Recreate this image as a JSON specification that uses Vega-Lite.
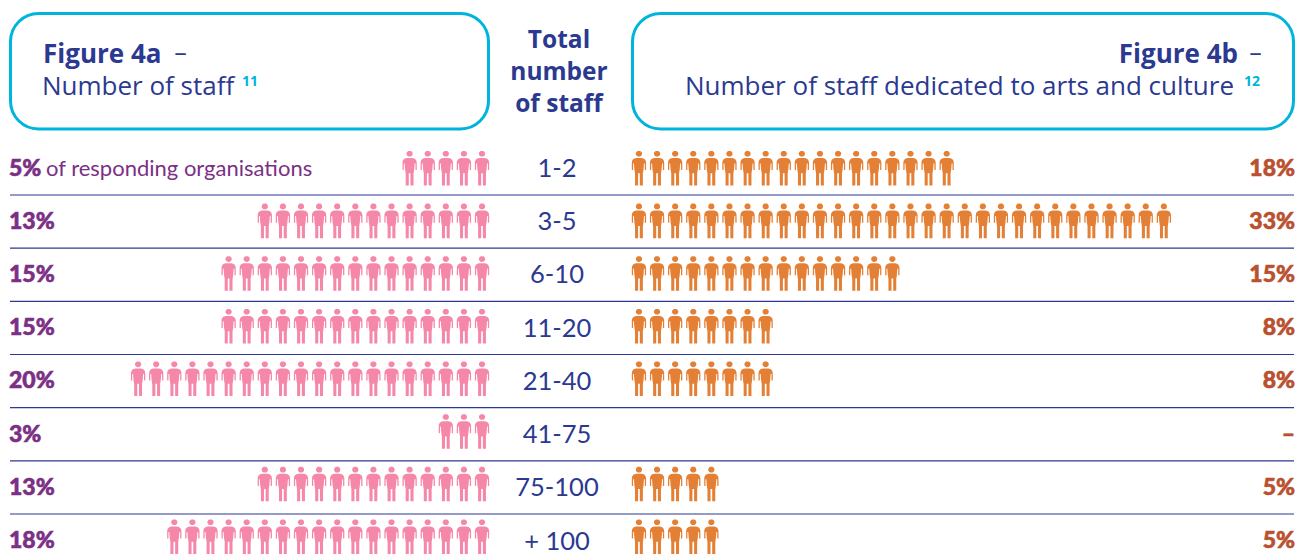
{"$schema":"https://vega.github.io/schema/vega-lite/v6.json","width":1296,"height":556,"autosize":{"type":"fit","contains":"padding"},"padding":0,"background":"white","config":{"view":{"stroke":null},"text":{"font":"Lato","baseline":"middle"}},"datasets":{"bands":[{"band":"1-2","a":"5%","b":"18%"},{"band":"3-5","a":"13%","b":"33%"},{"band":"6-10","a":"15%","b":"15%"},{"band":"11-20","a":"15%","b":"8%"},{"band":"21-40","a":"20%","b":"8%"},{"band":"41-75","a":"3%","b":"–"},{"band":"75-100","a":"13%","b":"5%"},{"band":"+ 100","a":"18%","b":"5%"}],"seps":[{"s":1},{"s":2},{"s":3},{"s":4},{"s":5},{"s":6},{"s":7}],"iconsA":[{"band":"1-2","i":1},{"band":"1-2","i":2},{"band":"1-2","i":3},{"band":"1-2","i":4},{"band":"1-2","i":5},{"band":"3-5","i":1},{"band":"3-5","i":2},{"band":"3-5","i":3},{"band":"3-5","i":4},{"band":"3-5","i":5},{"band":"3-5","i":6},{"band":"3-5","i":7},{"band":"3-5","i":8},{"band":"3-5","i":9},{"band":"3-5","i":10},{"band":"3-5","i":11},{"band":"3-5","i":12},{"band":"3-5","i":13},{"band":"6-10","i":1},{"band":"6-10","i":2},{"band":"6-10","i":3},{"band":"6-10","i":4},{"band":"6-10","i":5},{"band":"6-10","i":6},{"band":"6-10","i":7},{"band":"6-10","i":8},{"band":"6-10","i":9},{"band":"6-10","i":10},{"band":"6-10","i":11},{"band":"6-10","i":12},{"band":"6-10","i":13},{"band":"6-10","i":14},{"band":"6-10","i":15},{"band":"11-20","i":1},{"band":"11-20","i":2},{"band":"11-20","i":3},{"band":"11-20","i":4},{"band":"11-20","i":5},{"band":"11-20","i":6},{"band":"11-20","i":7},{"band":"11-20","i":8},{"band":"11-20","i":9},{"band":"11-20","i":10},{"band":"11-20","i":11},{"band":"11-20","i":12},{"band":"11-20","i":13},{"band":"11-20","i":14},{"band":"11-20","i":15},{"band":"21-40","i":1},{"band":"21-40","i":2},{"band":"21-40","i":3},{"band":"21-40","i":4},{"band":"21-40","i":5},{"band":"21-40","i":6},{"band":"21-40","i":7},{"band":"21-40","i":8},{"band":"21-40","i":9},{"band":"21-40","i":10},{"band":"21-40","i":11},{"band":"21-40","i":12},{"band":"21-40","i":13},{"band":"21-40","i":14},{"band":"21-40","i":15},{"band":"21-40","i":16},{"band":"21-40","i":17},{"band":"21-40","i":18},{"band":"21-40","i":19},{"band":"21-40","i":20},{"band":"41-75","i":1},{"band":"41-75","i":2},{"band":"41-75","i":3},{"band":"75-100","i":1},{"band":"75-100","i":2},{"band":"75-100","i":3},{"band":"75-100","i":4},{"band":"75-100","i":5},{"band":"75-100","i":6},{"band":"75-100","i":7},{"band":"75-100","i":8},{"band":"75-100","i":9},{"band":"75-100","i":10},{"band":"75-100","i":11},{"band":"75-100","i":12},{"band":"75-100","i":13},{"band":"+ 100","i":1},{"band":"+ 100","i":2},{"band":"+ 100","i":3},{"band":"+ 100","i":4},{"band":"+ 100","i":5},{"band":"+ 100","i":6},{"band":"+ 100","i":7},{"band":"+ 100","i":8},{"band":"+ 100","i":9},{"band":"+ 100","i":10},{"band":"+ 100","i":11},{"band":"+ 100","i":12},{"band":"+ 100","i":13},{"band":"+ 100","i":14},{"band":"+ 100","i":15},{"band":"+ 100","i":16},{"band":"+ 100","i":17},{"band":"+ 100","i":18}],"iconsB":[{"band":"1-2","i":1},{"band":"1-2","i":2},{"band":"1-2","i":3},{"band":"1-2","i":4},{"band":"1-2","i":5},{"band":"1-2","i":6},{"band":"1-2","i":7},{"band":"1-2","i":8},{"band":"1-2","i":9},{"band":"1-2","i":10},{"band":"1-2","i":11},{"band":"1-2","i":12},{"band":"1-2","i":13},{"band":"1-2","i":14},{"band":"1-2","i":15},{"band":"1-2","i":16},{"band":"1-2","i":17},{"band":"1-2","i":18},{"band":"3-5","i":1},{"band":"3-5","i":2},{"band":"3-5","i":3},{"band":"3-5","i":4},{"band":"3-5","i":5},{"band":"3-5","i":6},{"band":"3-5","i":7},{"band":"3-5","i":8},{"band":"3-5","i":9},{"band":"3-5","i":10},{"band":"3-5","i":11},{"band":"3-5","i":12},{"band":"3-5","i":13},{"band":"3-5","i":14},{"band":"3-5","i":15},{"band":"3-5","i":16},{"band":"3-5","i":17},{"band":"3-5","i":18},{"band":"3-5","i":19},{"band":"3-5","i":20},{"band":"3-5","i":21},{"band":"3-5","i":22},{"band":"3-5","i":23},{"band":"3-5","i":24},{"band":"3-5","i":25},{"band":"3-5","i":26},{"band":"3-5","i":27},{"band":"3-5","i":28},{"band":"3-5","i":29},{"band":"3-5","i":30},{"band":"6-10","i":1},{"band":"6-10","i":2},{"band":"6-10","i":3},{"band":"6-10","i":4},{"band":"6-10","i":5},{"band":"6-10","i":6},{"band":"6-10","i":7},{"band":"6-10","i":8},{"band":"6-10","i":9},{"band":"6-10","i":10},{"band":"6-10","i":11},{"band":"6-10","i":12},{"band":"6-10","i":13},{"band":"6-10","i":14},{"band":"6-10","i":15},{"band":"11-20","i":1},{"band":"11-20","i":2},{"band":"11-20","i":3},{"band":"11-20","i":4},{"band":"11-20","i":5},{"band":"11-20","i":6},{"band":"11-20","i":7},{"band":"11-20","i":8},{"band":"21-40","i":1},{"band":"21-40","i":2},{"band":"21-40","i":3},{"band":"21-40","i":4},{"band":"21-40","i":5},{"band":"21-40","i":6},{"band":"21-40","i":7},{"band":"21-40","i":8},{"band":"75-100","i":1},{"band":"75-100","i":2},{"band":"75-100","i":3},{"band":"75-100","i":4},{"band":"75-100","i":5},{"band":"+ 100","i":1},{"band":"+ 100","i":2},{"band":"+ 100","i":3},{"band":"+ 100","i":4},{"band":"+ 100","i":5}]},"data":{"values":[{}]},"resolve":{"scale":{"x":"independent","y":"independent"}},"layer":[{"mark":{"type":"rect","fill":"white","stroke":"#00B4DC","strokeWidth":3,"cornerRadius":28},"encoding":{"x":{"datum":10.5,"type":"quantitative","axis":null,"scale":{"domain":[0,1296],"range":[0,1296]}},"x2":{"datum":488.5},"y":{"datum":13.5,"type":"quantitative","axis":null,"scale":{"domain":[0,556],"range":[0,556]}},"y2":{"datum":129}}},{"mark":{"type":"rect","fill":"white","stroke":"#00B4DC","strokeWidth":3,"cornerRadius":28},"encoding":{"x":{"datum":632.5,"type":"quantitative","axis":null,"scale":{"domain":[0,1296],"range":[0,1296]}},"x2":{"datum":1293.5},"y":{"datum":13.5,"type":"quantitative","axis":null,"scale":{"domain":[0,556],"range":[0,556]}},"y2":{"datum":129}}},{"data":{"name":"seps"},"mark":{"type":"rule","stroke":"#2B3990","strokeWidth":1.2},"encoding":{"x":{"datum":10,"type":"quantitative","axis":null,"scale":{"domain":[0,1296],"range":[0,1296]}},"x2":{"datum":1294},"y":{"field":"s","type":"quantitative","axis":null,"scale":{"domain":[1,7],"range":[195,514],"zero":false,"nice":false}}}},{"data":{"name":"iconsA"},"mark":{"type":"point","filled":true,"opacity":1,"size":1156,"color":"#F587A9","shape":"M0,-1.03A0.166,0.166 0 1,1 0,-0.70A0.166,0.166 0 1,1 0,-1.03ZM-0.16,-0.62L0.16,-0.62Q0.42,-0.58 0.42,-0.32L0.42,0.09L0.345,0.09L0.345,-0.3L0.295,-0.3L0.27,0.05L0.23,0.3L0.23,1L0.05,1L0.05,0.28L-0.05,0.28L-0.05,1L-0.23,1L-0.23,0.3L-0.27,0.05L-0.295,-0.3L-0.345,-0.3L-0.345,0.09L-0.42,0.09L-0.42,-0.32Q-0.42,-0.58 -0.16,-0.62Z"},"encoding":{"x":{"field":"i","type":"quantitative","axis":null,"scale":{"domain":[27.63,-43.97],"zero":false,"nice":false}},"y":{"field":"band","type":"ordinal","axis":null,"sort":null,"scale":{"type":"point","padding":0,"domain":["1-2","3-5","6-10","11-20","21-40","41-75","75-100","+ 100"],"range":[168.5,537]}}}},{"data":{"name":"iconsB"},"mark":{"type":"point","filled":true,"opacity":1,"size":1156,"color":"#E38035","shape":"M0,-1.03A0.166,0.166 0 1,1 0,-0.70A0.166,0.166 0 1,1 0,-1.03ZM-0.16,-0.62L0.16,-0.62Q0.42,-0.58 0.42,-0.32L0.42,0.09L0.345,0.09L0.345,-0.3L0.295,-0.3L0.27,0.05L0.23,0.3L0.23,1L0.05,1L0.05,0.28L-0.05,0.28L-0.05,1L-0.23,1L-0.23,0.3L-0.27,0.05L-0.295,-0.3L-0.345,-0.3L-0.345,0.09L-0.42,0.09L-0.42,-0.32Q-0.42,-0.58 -0.16,-0.62Z"},"encoding":{"x":{"field":"i","type":"quantitative","axis":null,"scale":{"domain":[-34.3,37.3],"zero":false,"nice":false}},"y":{"field":"band","type":"ordinal","axis":null,"sort":null,"scale":{"type":"point","padding":0,"domain":["1-2","3-5","6-10","11-20","21-40","41-75","75-100","+ 100"],"range":[168.5,537]}}}},{"data":{"name":"bands"},"mark":{"type":"text","align":"center","fontSize":25.5,"color":"#2B3990"},"encoding":{"text":{"field":"band"},"x":{"datum":557,"type":"quantitative","axis":null,"scale":{"domain":[0,1296],"range":[0,1296]}},"y":{"field":"band","type":"ordinal","axis":null,"sort":null,"scale":{"type":"point","padding":0,"domain":["1-2","3-5","6-10","11-20","21-40","41-75","75-100","+ 100"],"range":[169,541.5]}}}},{"data":{"name":"bands"},"mark":{"type":"text","align":"left","fontSize":23,"fontWeight":900,"color":"#7B2F85","stroke":"#7B2F85","strokeWidth":0.6},"encoding":{"text":{"field":"a"},"x":{"datum":9,"type":"quantitative","axis":null,"scale":{"domain":[0,1296],"range":[0,1296]}},"y":{"field":"band","type":"ordinal","axis":null,"sort":null,"scale":{"type":"point","padding":0,"domain":["1-2","3-5","6-10","11-20","21-40","41-75","75-100","+ 100"],"range":[168.5,541]}}}},{"data":{"name":"bands"},"mark":{"type":"text","align":"right","fontSize":23,"fontWeight":900,"color":"#B9502F","stroke":"#B9502F","strokeWidth":0.6},"encoding":{"text":{"field":"b"},"x":{"datum":1295,"type":"quantitative","axis":null,"scale":{"domain":[0,1296],"range":[0,1296]}},"y":{"field":"band","type":"ordinal","axis":null,"sort":null,"scale":{"type":"point","padding":0,"domain":["1-2","3-5","6-10","11-20","21-40","41-75","75-100","+ 100"],"range":[168.5,541]}}}},{"mark":{"type":"text","align":"left","fontSize":22,"color":"#7B2F85","text":"of responding organisations"},"encoding":{"x":{"datum":46,"type":"quantitative","axis":null,"scale":{"domain":[0,1296],"range":[0,1296]}},"y":{"datum":169,"type":"quantitative","axis":null,"scale":{"domain":[0,556],"range":[0,556]}}}},{"mark":{"type":"text","font":"Open Sans","align":"left","fontSize":26,"fontWeight":"bold","color":"#2B3990","text":"Figure 4a"},"encoding":{"x":{"datum":43,"type":"quantitative","axis":null,"scale":{"domain":[0,1296],"range":[0,1296]}},"y":{"datum":55,"type":"quantitative","axis":null,"scale":{"domain":[0,556],"range":[0,556]}}}},{"mark":{"type":"text","align":"left","fontSize":26,"color":"#2B3990","text":"–"},"encoding":{"x":{"datum":173,"type":"quantitative","axis":null,"scale":{"domain":[0,1296],"range":[0,1296]}},"y":{"datum":54,"type":"quantitative","axis":null,"scale":{"domain":[0,556],"range":[0,556]}}}},{"mark":{"type":"text","font":"Open Sans","align":"left","fontSize":26,"color":"#2B3990","text":"Number of staff"},"encoding":{"x":{"datum":42,"type":"quantitative","axis":null,"scale":{"domain":[0,1296],"range":[0,1296]}},"y":{"datum":87,"type":"quantitative","axis":null,"scale":{"domain":[0,556],"range":[0,556]}}}},{"mark":{"type":"text","font":"Open Sans","align":"left","fontSize":14,"fontWeight":"bold","color":"#00B4DC","text":"11"},"encoding":{"x":{"datum":242,"type":"quantitative","axis":null,"scale":{"domain":[0,1296],"range":[0,1296]}},"y":{"datum":82,"type":"quantitative","axis":null,"scale":{"domain":[0,556],"range":[0,556]}}}},{"mark":{"type":"text","font":"Open Sans","align":"center","fontSize":24.5,"fontWeight":"bold","color":"#2B3990","text":"Total"},"encoding":{"x":{"datum":559,"type":"quantitative","axis":null,"scale":{"domain":[0,1296],"range":[0,1296]}},"y":{"datum":41,"type":"quantitative","axis":null,"scale":{"domain":[0,556],"range":[0,556]}}}},{"mark":{"type":"text","font":"Open Sans","align":"center","fontSize":24.5,"fontWeight":"bold","color":"#2B3990","text":"number"},"encoding":{"x":{"datum":559,"type":"quantitative","axis":null,"scale":{"domain":[0,1296],"range":[0,1296]}},"y":{"datum":73,"type":"quantitative","axis":null,"scale":{"domain":[0,556],"range":[0,556]}}}},{"mark":{"type":"text","font":"Open Sans","align":"center","fontSize":24.5,"fontWeight":"bold","color":"#2B3990","text":"of staff"},"encoding":{"x":{"datum":559,"type":"quantitative","axis":null,"scale":{"domain":[0,1296],"range":[0,1296]}},"y":{"datum":105,"type":"quantitative","axis":null,"scale":{"domain":[0,556],"range":[0,556]}}}},{"mark":{"type":"text","font":"Open Sans","align":"right","fontSize":26,"fontWeight":"bold","color":"#2B3990","text":"Figure 4b"},"encoding":{"x":{"datum":1238,"type":"quantitative","axis":null,"scale":{"domain":[0,1296],"range":[0,1296]}},"y":{"datum":55,"type":"quantitative","axis":null,"scale":{"domain":[0,556],"range":[0,556]}}}},{"mark":{"type":"text","align":"left","fontSize":26,"color":"#2B3990","text":"–"},"encoding":{"x":{"datum":1248,"type":"quantitative","axis":null,"scale":{"domain":[0,1296],"range":[0,1296]}},"y":{"datum":54,"type":"quantitative","axis":null,"scale":{"domain":[0,556],"range":[0,556]}}}},{"mark":{"type":"text","font":"Open Sans","align":"right","fontSize":26,"color":"#2B3990","text":"Number of staff dedicated to arts and culture"},"encoding":{"x":{"datum":1234,"type":"quantitative","axis":null,"scale":{"domain":[0,1296],"range":[0,1296]}},"y":{"datum":87,"type":"quantitative","axis":null,"scale":{"domain":[0,556],"range":[0,556]}}}},{"mark":{"type":"text","font":"Open Sans","align":"left","fontSize":14,"fontWeight":"bold","color":"#00B4DC","text":"12"},"encoding":{"x":{"datum":1244,"type":"quantitative","axis":null,"scale":{"domain":[0,1296],"range":[0,1296]}},"y":{"datum":82,"type":"quantitative","axis":null,"scale":{"domain":[0,556],"range":[0,556]}}}}]}
